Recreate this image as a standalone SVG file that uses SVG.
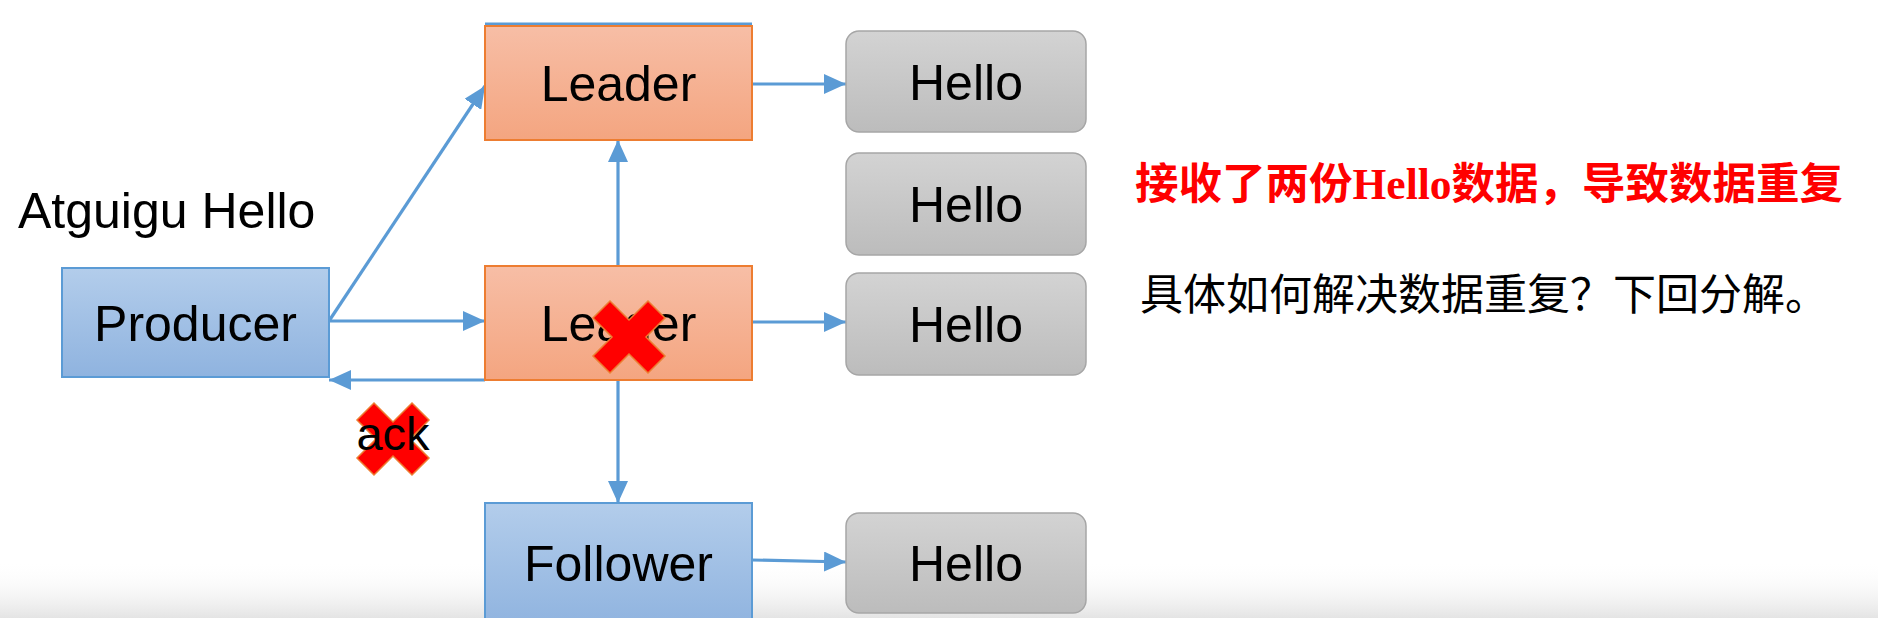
<svg xmlns="http://www.w3.org/2000/svg" width="1878" height="618" viewBox="0 0 1878 618">
<style>
.lbl{font-family:"Liberation Sans",Arial,sans-serif;font-size:50px;fill:#000;text-anchor:middle}
.conn{stroke:#5b9bd5;stroke-width:3.2;fill:none}
.blue{fill:url(#gBlue);stroke:#5b9bd5;stroke-width:2}
.orange{fill:url(#gOrange);stroke:#ed7d31;stroke-width:2}
.grey{fill:url(#gGrey);stroke:#a6a6a6;stroke-width:1.5}
.cross{fill:#ff0000;stroke:#ed7d31;stroke-width:1.5}
.cjk{font-family:"Liberation Serif","Noto Sans CJK SC",serif}
</style>
<defs>
<linearGradient id="gBlue" x1="0" y1="0" x2="0" y2="1"><stop offset="0" stop-color="#b3cdeb"/><stop offset="1" stop-color="#8fb3df"/></linearGradient>
<linearGradient id="gOrange" x1="0" y1="0" x2="0" y2="1"><stop offset="0" stop-color="#f7bea6"/><stop offset="1" stop-color="#f4a580"/></linearGradient>
<linearGradient id="gGrey" x1="0" y1="0" x2="0" y2="1"><stop offset="0" stop-color="#d3d3d3"/><stop offset="1" stop-color="#bcbcbc"/></linearGradient>
<linearGradient id="gShade" x1="0" y1="0" x2="0" y2="1"><stop offset="0" stop-color="#ffffff" stop-opacity="0"/><stop offset="1" stop-color="#e4e4e4"/></linearGradient>
<marker id="arr" viewBox="0 0 22 20" refX="22" refY="10" markerWidth="22" markerHeight="20" markerUnits="userSpaceOnUse" orient="auto"><path d="M0,0 L22,10 L0,20 z" fill="#5b9bd5"/></marker>
<polygon id="xmark" points="0,-17 19,-36 36,-19 17,0 36,19 19,36 0,17 -19,36 -36,19 -17,0 -36,-19 -19,-36"/>
</defs>
<rect x="0" y="0" width="1878" height="618" fill="#ffffff"/>
<rect x="0" y="560" width="1878" height="58" fill="url(#gShade)"/>

<g id="connectors">
<line class="conn" x1="485" y1="24" x2="752" y2="24"/>
<line class="conn" x1="329" y1="321" x2="485" y2="86" marker-end="url(#arr)"/>
<line class="conn" x1="329" y1="321" x2="485" y2="321" marker-end="url(#arr)"/>
<line class="conn" x1="485" y1="380" x2="329" y2="380" marker-end="url(#arr)"/>
<line class="conn" x1="618" y1="266" x2="618" y2="140" marker-end="url(#arr)"/>
<line class="conn" x1="618" y1="380" x2="618" y2="503" marker-end="url(#arr)"/>
<line class="conn" x1="752" y1="84" x2="846" y2="84" marker-end="url(#arr)"/>
<line class="conn" x1="752" y1="322" x2="846" y2="322" marker-end="url(#arr)"/>
<line class="conn" x1="752" y1="560" x2="846" y2="562" marker-end="url(#arr)"/>
</g>

<g id="title"><text x="18" y="228" font-family="Liberation Sans,Arial,sans-serif" font-size="50" fill="#000">Atguigu Hello</text></g>

<g id="producer"><rect class="blue" x="62" y="268" width="267" height="109"/><text class="lbl" x="195.5" y="341">Producer</text></g>

<g id="leader-top"><rect class="orange" x="485" y="26" width="267" height="114"/><text class="lbl" x="618.5" y="101">Leader</text></g>

<g id="leader-mid"><rect class="orange" x="485" y="266" width="267" height="114"/><text class="lbl" x="618.5" y="341">Leader</text><use href="#xmark" class="cross" transform="translate(629,337)"/></g>

<g id="follower"><rect class="blue" x="485" y="503" width="267" height="125"/><text class="lbl" x="618.5" y="581">Follower</text></g>

<g id="hello1"><rect class="grey" x="846" y="31" width="240" height="101" rx="13"/><text class="lbl" x="966" y="100">Hello</text></g>
<g id="hello2"><rect class="grey" x="846" y="153" width="240" height="102" rx="13"/><text class="lbl" x="966" y="222">Hello</text></g>
<g id="hello3"><rect class="grey" x="846" y="273" width="240" height="102" rx="13"/><text class="lbl" x="966" y="342">Hello</text></g>
<g id="hello4"><rect class="grey" x="846" y="513" width="240" height="100" rx="13"/><text class="lbl" x="966" y="581">Hello</text></g>

<g id="ack"><use href="#xmark" class="cross" transform="translate(393,439)"/><text class="lbl" x="393" y="450" style="font-size:47px">ack</text></g>

<g id="notes">
<text class="cjk" x="1135" y="199" fill="#ff0000" font-weight="bold" font-size="43.5">接收了两份Hello数据，导致数据重复</text>
<text class="cjk" x="1140" y="310" fill="#000" font-size="43">具体如何解决数据重复？下回分解。</text>
</g>
</svg>
